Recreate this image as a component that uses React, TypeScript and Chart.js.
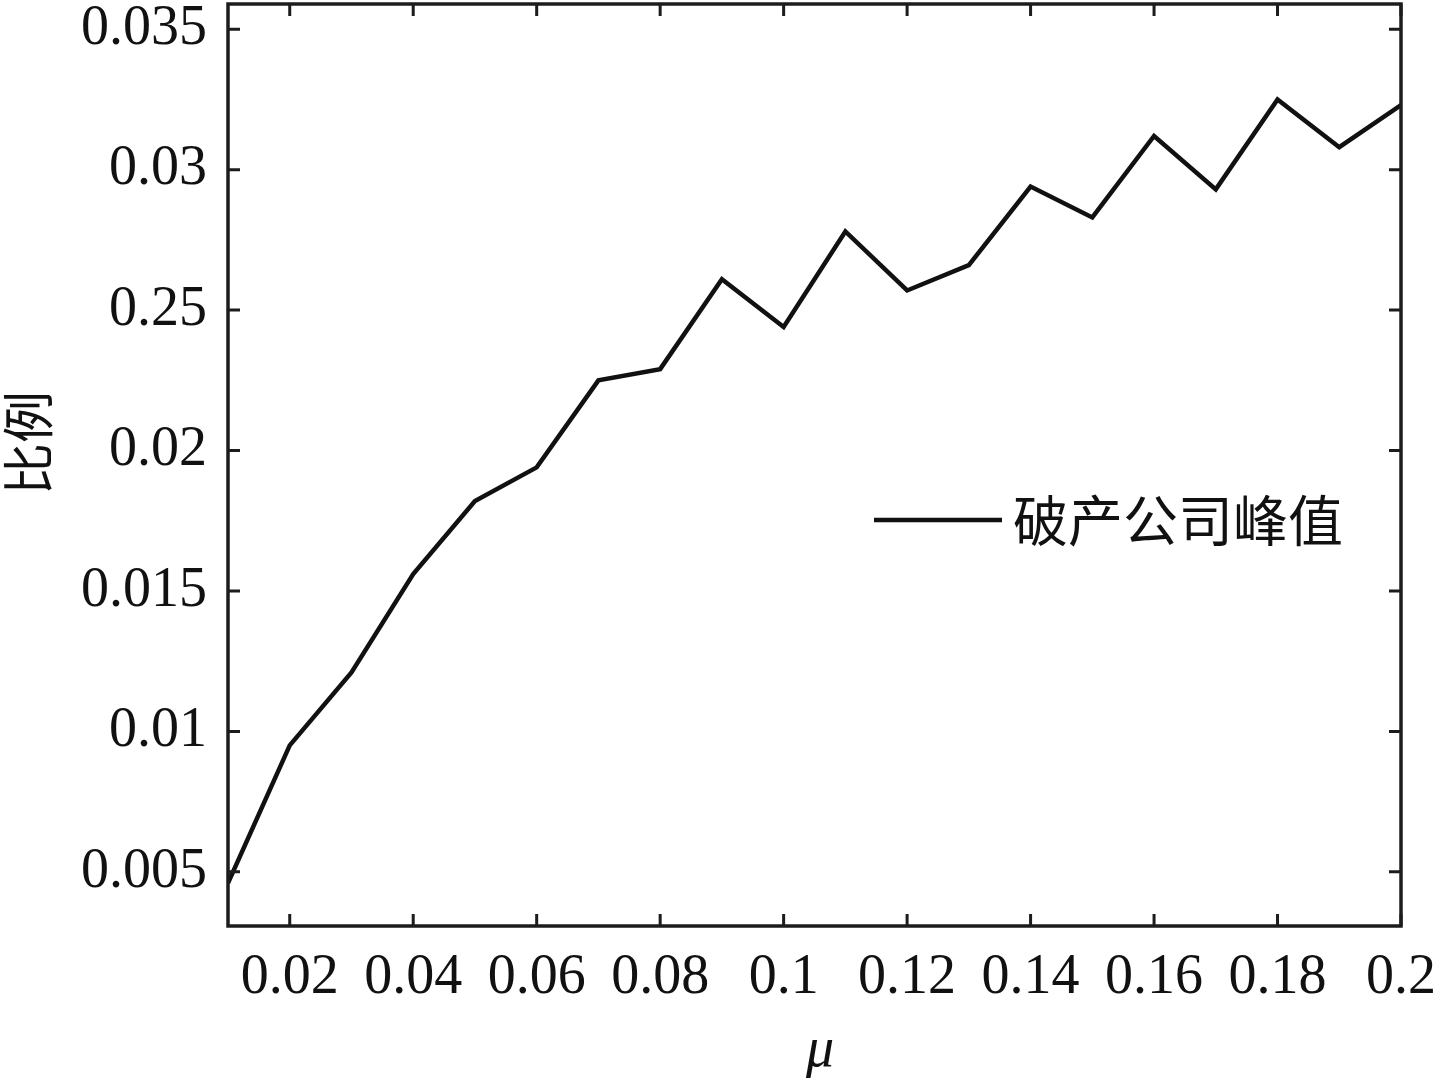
import React, { useEffect, useRef } from "react";
import { Chart, registerables } from "chart.js";

Chart.register(...registerables);

const muValues = [0.01, 0.02, 0.03, 0.04, 0.05, 0.06, 0.07, 0.08, 0.09, 0.1, 0.11, 0.12, 0.13, 0.14, 0.15, 0.16, 0.17, 0.18, 0.19, 0.2];
const ratioValues = [0.0046, 0.0095, 0.0121, 0.0156, 0.0182, 0.0194, 0.0225, 0.0229, 0.0261, 0.0244, 0.0278, 0.0257, 0.0266, 0.0294, 0.0283, 0.0312, 0.0293, 0.0325, 0.0308, 0.0323];

const xTickValues = [0.02, 0.04, 0.06, 0.08, 0.1, 0.12, 0.14, 0.16, 0.18, 0.2];
const xTickLabels = ["0.02", "0.04", "0.06", "0.08", "0.1", "0.12", "0.14", "0.16", "0.18", "0.2"];
const yTickValues = [0.005, 0.01, 0.015, 0.02, 0.025, 0.03, 0.035];
const yTickLabels = ["0.005", "0.01", "0.015", "0.02", "0.25", "0.03", "0.035"];

const seriesLabel = "破产公司峰值";
const xTitle = "μ";
const yTitle = "比例";

const SERIF = "'Liberation Serif', 'DejaVu Serif', serif";
const CJK = "'Noto Sans CJK SC', sans-serif";

const framePlugin = {
  id: "frameTicks",
  afterDraw(chart: any) {
    const { ctx, chartArea } = chart;
    const { left, right, top, bottom } = chartArea;
    const xs = chart.scales.x;
    const ys = chart.scales.y;
    ctx.save();
    ctx.strokeStyle = "#1c1c1c";
    ctx.lineWidth = 3.5;
    ctx.strokeRect(left, top, right - left, bottom - top);
    ctx.lineWidth = 3;
    const tl = 12;
    ctx.beginPath();
    xTickValues.forEach((v) => {
      const px = xs.getPixelForValue(v);
      ctx.moveTo(px, bottom);
      ctx.lineTo(px, bottom - tl);
      ctx.moveTo(px, top);
      ctx.lineTo(px, top + tl);
    });
    yTickValues.forEach((v) => {
      const py = ys.getPixelForValue(v);
      ctx.moveTo(left, py);
      ctx.lineTo(left + tl, py);
      ctx.moveTo(right, py);
      ctx.lineTo(right - tl, py);
    });
    ctx.stroke();

    // legend
    const ds = chart.data.datasets[0];
    const ly = 520;
    ctx.strokeStyle = ds.borderColor;
    ctx.lineWidth = 4.5;
    ctx.beginPath();
    ctx.moveTo(874, ly);
    ctx.lineTo(1002, ly);
    ctx.stroke();
    ctx.fillStyle = "#111";
    ctx.font = `55px ${CJK}`;
    ctx.textAlign = "left";
    ctx.textBaseline = "middle";
    ctx.fillText(ds.label, 1013, ly);

    // axis titles
    ctx.font = `italic 56px ${SERIF}`;
    ctx.textAlign = "center";
    ctx.textBaseline = "alphabetic";
    ctx.fillText(xTitle, 820, 1066);

    ctx.save();
    ctx.translate(28, 443);
    ctx.rotate(-Math.PI / 2);
    ctx.font = `52px ${CJK}`;
    ctx.textAlign = "center";
    ctx.textBaseline = "middle";
    ctx.fillText(yTitle, 0, 0);
    ctx.restore();
    ctx.restore();
  },
};

export default function App() {
  const ref = useRef<HTMLCanvasElement | null>(null);
  useEffect(() => {
    if (!ref.current) return;
    const chart = new Chart(ref.current, {
      type: "line",
      data: {
        datasets: [
          {
            label: seriesLabel,
            data: muValues.map((m, i) => ({ x: m, y: ratioValues[i] })),
            borderColor: "#111111",
            borderWidth: 4.5,
            pointRadius: 0,
            tension: 0,
            borderJoinStyle: "miter",
            fill: false,
          },
        ],
      },
      options: {
        animation: false,
        responsive: false,
        events: [],
        layout: { padding: { top: 4, right: 36, left: 0, bottom: 0 } },
        plugins: { legend: { display: false }, tooltip: { enabled: false } },
        scales: {
          x: {
            type: "linear",
            min: 0.01,
            max: 0.2,
            grid: { display: false },
            border: { display: false },
            afterBuildTicks: (s: any) => {
              s.ticks = xTickValues.map((v) => ({ value: v }));
            },
            afterFit: (s: any) => {
              s.height = 152;
              s.paddingLeft = 0;
              s.paddingRight = 0;
            },
            ticks: {
              autoSkip: false,
              maxRotation: 0,
              padding: 11,
              color: "#111",
              font: { family: SERIF, size: 56 },
              callback: (_v: any, i: number) => xTickLabels[i],
            },
          },
          y: {
            type: "linear",
            min: 0.00307,
            max: 0.0359,
            grid: { display: false },
            border: { display: false },
            afterBuildTicks: (s: any) => {
              s.ticks = yTickValues.map((v) => ({ value: v }));
            },
            afterFit: (s: any) => {
              s.width = 228;
              s.paddingTop = 0;
              s.paddingBottom = 0;
            },
            ticks: {
              autoSkip: false,
              padding: 13,
              color: "#111",
              font: { family: SERIF, size: 56 },
              callback: (_v: any, i: number) => yTickLabels[i],
            },
          },
        },
      },
      plugins: [framePlugin],
    } as any);
    return () => chart.destroy();
  }, []);
  return (
    <div style={{ position: "fixed", left: 0, top: 0, width: 1437, height: 1078, background: "#fff" }}>
      <canvas ref={ref} width={1437} height={1078} style={{ display: "block" }} />
    </div>
  );
}
